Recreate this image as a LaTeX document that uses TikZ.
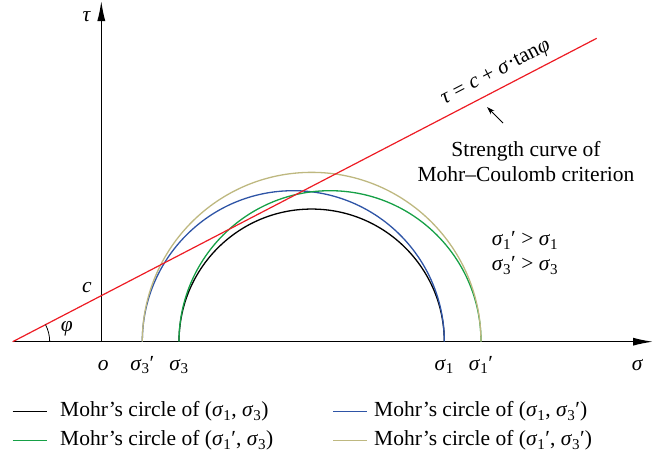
\documentclass[tikz,border=0pt]{standalone}
\usepackage{fontspec}
\setmainfont{Liberation Serif}
\usepackage{tikz}
\usetikzlibrary{arrows.meta,calc}
\definecolor{mred}{RGB}{237,28,36}
\definecolor{mblue}{RGB}{46,84,166}
\definecolor{mgreen}{RGB}{22,160,70}
\definecolor{molive}{RGB}{190,184,128}
\tikzset{
  axis/.style={-{Latex[length=20pt,width=8pt]},line width=1.2pt},
  circ/.style={line width=1.3pt},
  arr/.style={-{Stealth[length=8pt,width=5pt]},line width=0.9pt},
  lbl/.style={inner sep=0pt},
  leg/.style={line width=1.2pt},
}
\newcommand\sgm[1]{\textit{σ}\textsubscript{#1}}

\begin{document}
\begin{tikzpicture}[x=1pt,y=1pt,every node/.style={font=\fontsize{21.5}{25}\selectfont}]
 \useasboundingbox (-101.3,-117.3) rectangle (564.7,341.7);
 \coordinate (o) at (0,0); \coordinate (x0) at (-88.6,0); \coordinate (x1) at (551.7,0);
 \coordinate (y1) at (0,340.7); \coordinate (r1) at (495.4,303.4);
 \foreach \n/\x in {s3p/41,s3/77.7,s1/343,s1p/379.7} \coordinate (\n) at (\x,0);
 \draw[axis] (x0) -- (x1);
 \draw[axis] (o) -- (y1);
 \foreach \a/\b/\c in {s3/s1/black,s3p/s1/mblue,s3/s1p/mgreen,s3p/s1p/molive}
   \draw[circ,\c] let \p1=(\a),\p2=(\b) in (\b) arc[start angle=0,end angle=180,radius={(\x2-\x1)/2}];
 \draw[mred,line width=1.2pt] (x0) -- node[pos=0.84,sloped,above=3pt,text=black] (eq) {\textit{τ} = \textit{c} + \textit{σ}·tan\textit{φ}} (r1);
 \draw[line width=0.8pt] ($(x0)+(37,0)$) arc[start angle=0,end angle=27.45,radius=37];
 \node[lbl] (tau) at (-14.6,324.7) {\textit{τ}};
 \node[lbl] (c) at (-14.3,53.7) {\textit{c}};
 \node[lbl] (phi) at (-34.6,12.7) {\textit{φ}};
 \node[lbl,anchor=base] (sig) at (536.2,-29) {\textit{σ}};
 \node[lbl,anchor=base] (lo) at (2,-29) {\textit{o}};
 \foreach \n/\t in {s3p/{\sgm{3}′},s3/{\sgm{3}},s1/{\sgm{1}},s1p/{\sgm{1}′}}
   \node[lbl,anchor=base] (l\n) at ($(\n)+(0,-29)$) {\t};
 \node[lbl,align=center] (sc) at (424.7,180) {Strength curve of\\Mohr–Coulomb criterion};
 \coordinate (a0) at (401.7,218.7); \coordinate (a1) at (385.7,234.7);
 \draw[arr] (a0) -- (a1);
 \node[lbl,align=left] (cond) at (423.7,88.7) {\sgm{1}′ > \sgm{1}\\\sgm{3}′ > \sgm{3}};
 \foreach \c/\x/\tx/\y/\t in {black/-88.6/-41.3/-70/{(\sgm{1}, \sgm{3})},mgreen/-88.6/-41.3/-99/{(\sgm{1}′, \sgm{3})},
   mblue/232/272.7/-70/{(\sgm{1}, \sgm{3}′)},molive/232/272.7/-99/{(\sgm{1}′, \sgm{3}′)}}{
   \coordinate (k\c) at (\x,\y);
   \draw[leg,\c] (k\c) -- ++(34,0);
   \node[lbl,anchor=west] (t\c) at (\tx,\y) {Mohr’s circle of \t};
 }
\end{tikzpicture}
\end{document}
